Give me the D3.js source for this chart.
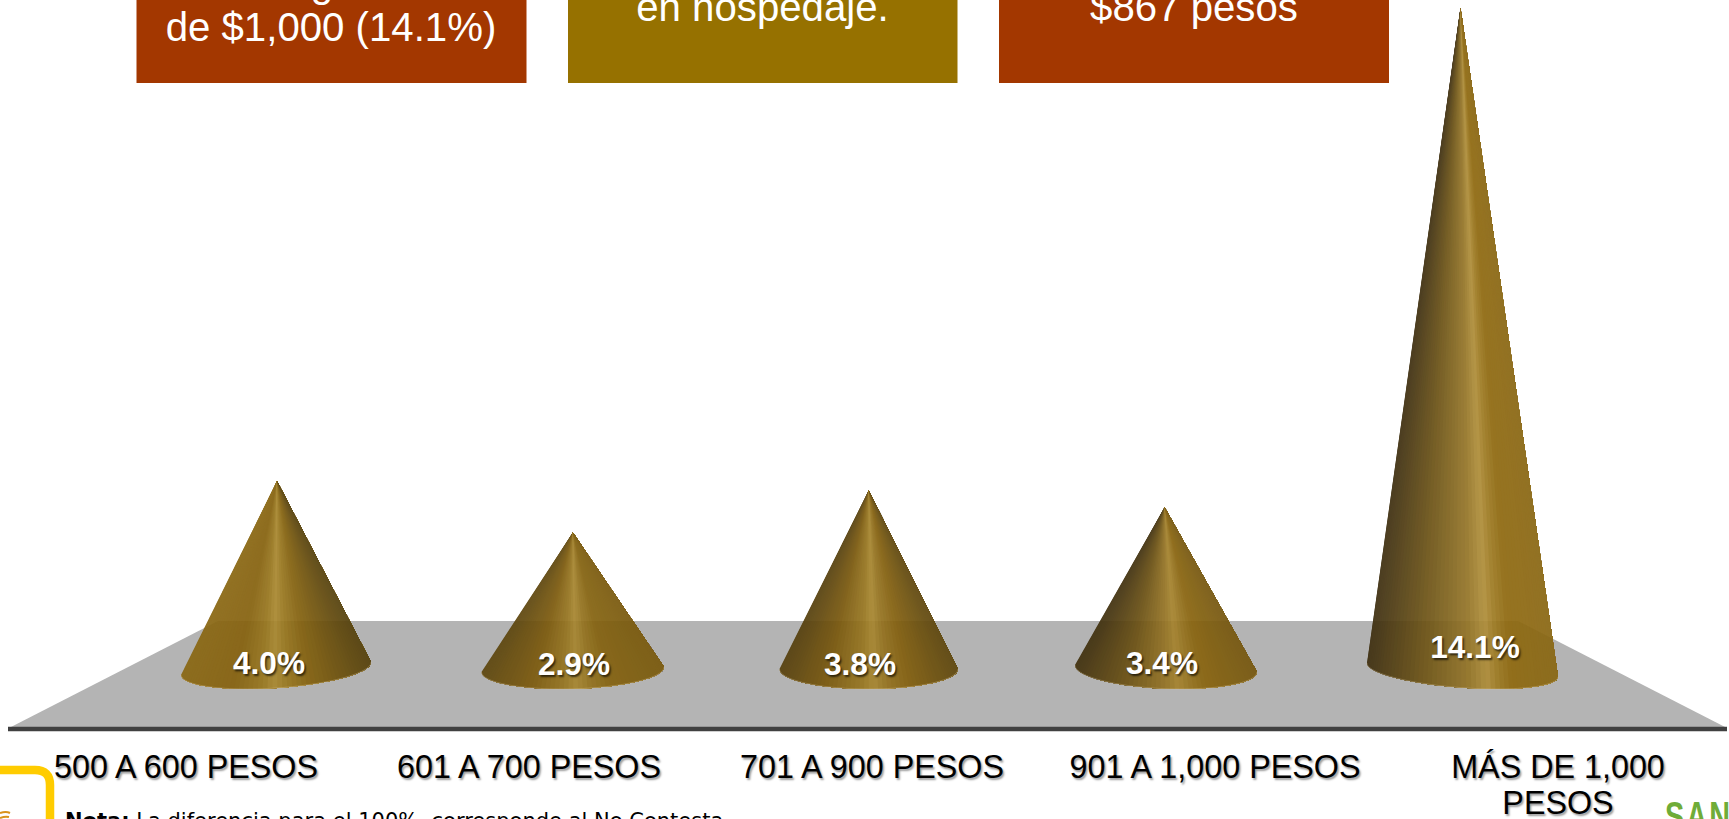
<!DOCTYPE html>
<html lang="es">
<head>
<meta charset="utf-8">
<title>Gasto en hospedaje</title>
<script src="https://cdn.jsdelivr.net/npm/d3@7"></script>
<style>
html,body{margin:0;padding:0;background:#fff;overflow:hidden}
svg{display:block}
text{font-family:"Liberation Sans",Arial,sans-serif}
.cat{font-size:32.3px;fill:#000;text-shadow:1.5px 1.5px 2px rgba(0,0,0,.4)}
.val{font-size:31.6px;font-weight:700;fill:#fff;text-shadow:1.5px 1.5px 2px rgba(0,0,0,.65)}
.box{font-size:40.2px;fill:#fff}
</style>
</head>
<body>
<script>
// ---- Data ----
const categories = ["500 A 600 PESOS", "601 A 700 PESOS", "701 A 900 PESOS", "901 A 1,000 PESOS", "MÁS DE 1,000 PESOS"];
const categoryLines = [["500 A 600 PESOS"], ["601 A 700 PESOS"], ["701 A 900 PESOS"], ["901 A 1,000 PESOS"], ["MÁS DE 1,000", "PESOS"]];
const values = [4.0, 2.9, 3.8, 3.44, 14.1];
const valueLabels = ["4.0%", "2.9%", "3.8%", "3.4%", "14.1%"];
// Callouts are cropped by the top of the picture: only their legible text is kept.
const calloutLines = [["g", "de $1,000 (14.1%)"], ["en hospedaje."], ["$867 pesos"]];
const noteBold = "Nota:";
const noteText = " La diferencia para el 100%, corresponde al No Contesta";
const logoText = "SAN";

// ---- Layout ----
const W = 1729, H = 819;
const yVal = d3.scaleLinear().domain([0, 14.1]).range([668.4, 8]);
const xCone = d3.scalePoint().domain(categories).range([277, 1460.5]);
const xLabel = d3.scalePoint().domain(categories).range([186, 1558]);
const floorTop = 621, floorBottom = 728, baseBottom = 689;
const floorPts = [[218, floorTop], [1518, floorTop], [1727, floorBottom], [9, floorBottom]];
// perspective of each cone's elliptical base: left / right silhouette points
const baseLeft = [[181, 675], [481.5, 672], [779.5, 669], [1075, 665], [1367, 663]];
const baseRight = [[371, 662], [664, 667], [958, 669], [1257, 672], [1558, 677]];
const shadeStops = [
  [[0, "#8a6814"], [.28, "#86620f"], [.43, "#98771f"], [.49, "#a98830"], [.56, "#98771f"], [.68, "#84620f"], [1, "#57420d"]],
  [[0, "#5f4810"], [.28, "#7d5b0e"], [.45, "#967520"], [.52, "#a78630"], [.59, "#957420"], [.7, "#856310"], [1, "#7a5a0e"]],
  [[0, "#57410f"], [.26, "#7a590e"], [.46, "#977620"], [.53, "#a88730"], [.6, "#957320"], [.72, "#84610f"], [1, "#60480f"]],
  [[0, "#423210"], [.28, "#6c5214"], [.5, "#957424"], [.57, "#a6842e"], [.63, "#977420"], [.72, "#89650f"], [1, "#775810"]],
  [[0, "#3f3012"], [.28, "#6c5316"], [.54, "#957628"], [.63, "#b08e3a"], [.68, "#9f7c24"], [.76, "#8f6910"], [1, "#8a6814"]]
];
const valueLabelX = [269, 574, 860, 1162, 1475];
const valueLabelY = [674, 675, 675, 674, 658];
const callouts = [
  {x: 136.5, w: 390, fill: "#a33700", baselines: [-3, 41], lineX: [322, 331]},
  {x: 568, w: 389.5, fill: "#967100", baselines: [20.5], lineX: [762.5]},
  {x: 999, w: 390, fill: "#a33700", baselines: [20.5], lineX: [1194]}
];

const svg = d3.select("body").append("svg").attr("width", W).attr("height", H).attr("viewBox", `0 0 ${W} ${H}`);

// callouts
const cg = svg.selectAll("g.callout").data(callouts).join("g").attr("class", "callout");
cg.append("rect").attr("x", d => d.x).attr("y", -10).attr("width", d => d.w).attr("height", 93).attr("fill", d => d.fill);
cg.each(function (d, i) {
  d3.select(this).selectAll("text").data(calloutLines[i]).join("text")
    .attr("class", "box").attr("text-anchor", "middle")
    .attr("x", (t, j) => d.lineX[j]).attr("y", (t, j) => d.baselines[j]).text(t => t);
});

// floor and front edge
svg.append("path").attr("d", d3.line()(floorPts) + "Z").attr("fill", "#b4b4b4");
svg.append("line").attr("x1", 8).attr("x2", 1727).attr("y1", 729).attr("y2", 729)
  .attr("stroke", "#404040").attr("stroke-width", 4.4);

// cones
function conePoints(i) {
  const [lx, ly] = baseLeft[i], [rx0, ry0] = baseRight[i];
  const cx = (lx + rx0) / 2, cy = (ly + ry0) / 2;
  const phi = Math.atan2(ry0 - ly, rx0 - lx);
  const a = Math.hypot(rx0 - lx, ry0 - ly) / 2;
  const ext = baseBottom - cy;
  const b = Math.sqrt(Math.max(1, ext * ext - (a * Math.sin(phi)) ** 2)) / Math.cos(phi);
  return d3.range(0, 61).map(k => {
    const th = Math.PI * (1 - k / 60);
    return [cx + a * Math.cos(th) * Math.cos(phi) - b * Math.sin(th) * Math.sin(phi),
            cy + a * Math.cos(th) * Math.sin(phi) + b * Math.sin(th) * Math.cos(phi)];
  });
}
const line = d3.line();
const coneG = svg.selectAll("g.cone").data(categories).join("g").attr("class", "cone").attr("opacity", 0.93);
coneG.each(function (cat, i) {
  const apex = [xCone(cat), yVal(values[i])];
  const pts = conePoints(i);
  const x0 = d3.min(pts, p => p[0]), x1 = d3.max(pts, p => p[0]);
  const shade = d3.scaleLinear().domain(shadeStops[i].map(s => s[0])).range(shadeStops[i].map(s => s[1])).interpolate(d3.interpolateRgb);
  // painter's order: each wedge covers everything to its right, so no seams show between wedges
  d3.select(this).selectAll("path.w").data(pts.slice(0, -1)).join("path").attr("class", "w")
    .attr("d", (p, k) => line([apex, ...pts.slice(k)]) + "Z")
    .attr("fill", (p, k) => shade(((p[0] + pts[k + 1][0]) / 2 - x0) / (x1 - x0)));
  // thin light rim along the base
  d3.select(this).append("path").attr("d", line(pts))
    .attr("fill", "none").attr("stroke", "#e8d2a0").attr("stroke-opacity", .4).attr("stroke-width", .8);
});

// value labels
svg.selectAll("text.val").data(valueLabels).join("text").attr("class", "val")
  .attr("text-anchor", "middle").attr("x", (d, i) => valueLabelX[i]).attr("y", (d, i) => valueLabelY[i]).text(d => d);

// category labels
const lab = svg.selectAll("g.lab").data(categories).join("g").attr("class", "lab");
lab.each(function (cat, i) {
  d3.select(this).selectAll("text").data(categoryLines[i]).join("text").attr("class", "cat")
    .attr("text-anchor", "middle").attr("x", xLabel(cat)).attr("y", (t, j) => 778 + j * 36).text(t => t);
});

// logo fragment bottom-left
svg.append("path").attr("d", "M-10,770 H35 Q50,770 50,785 V830").attr("fill", "none").attr("stroke", "#ffcc00").attr("stroke-width", 8.5);
svg.append("path").attr("d", "M0,813 Q6,811 10,813 M0,818 Q5,816 9,817").attr("fill", "none").attr("stroke", "#d9921a").attr("stroke-width", 2);

// note, cropped by the bottom of the picture
const note = svg.append("text").attr("x", 65).attr("y", 828).attr("font-size", 21).attr("fill", "#000")
  .style("font-family", '"DejaVu Sans",Verdana,sans-serif');
note.append("tspan").attr("font-weight", 700).text(noteBold);
note.append("tspan").style("white-space", "pre").text(noteText);

// partner logo, cropped
svg.append("text").attr("transform", "translate(1665,830) scale(.72,1)").attr("font-size", 40).attr("font-weight", 700)
  .attr("fill", "#6fac38").attr("letter-spacing", 3)
  .style("font-family", '"Liberation Sans",sans-serif').text(logoText);
</script>
</body>
</html>
